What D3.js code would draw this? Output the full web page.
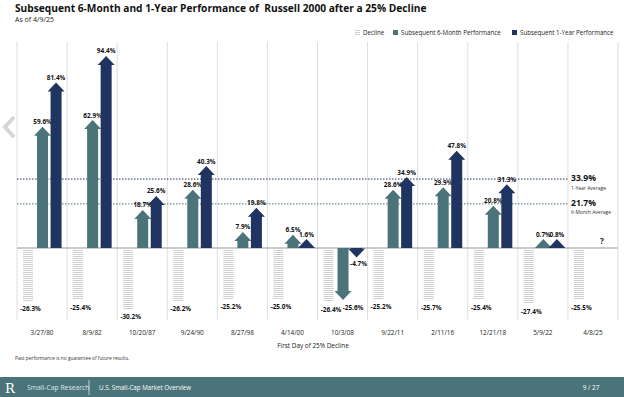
<!DOCTYPE html>
<html>
<head>
<meta charset="utf-8">
<script src="https://cdn.jsdelivr.net/npm/d3@7"></script>
<style>
  body { margin: 0; background: #fff; }
  svg { display: block; font-family: "Open Sans", "Lato", sans-serif; }
</style>
</head>
<body>
<div id="chart"></div>
<script>
"use strict";

// values
var dates = ["3/27/80", "8/9/82", "10/20/87", "9/24/90", "8/27/98", "4/14/00", "10/3/08", "9/22/11", "2/11/16", "12/21/18", "5/9/22", "4/8/25"];
var decline = [-26.3, -25.4, -30.2, -26.2, -25.2, -25.0, -26.4, -25.2, -25.7, -25.4, -27.4, -25.5];
var sixMonth = [59.6, 62.9, 18.7, 28.6, 7.9, 6.5, -25.6, 28.6, 29.9, 20.8, 0.7, null];
var oneYear = [81.4, 94.4, 25.6, 40.3, 19.8, 1.6, -4.7, 34.9, 47.8, 31.3, 0.8, null];
var averages = [
  { value: 33.9, name: "1-Year Average", color: "#1f3461" },
  { value: 21.7, name: "6-Month Average", color: "#4a7479" }
];

var W = 624, H = 397;
var teal = "#4a7479", navy = "#1f3461";

var svg = d3.select("#chart").append("svg")
  .attr("width", W)
  .attr("height", H);

var defs = svg.append("defs");
var pat = defs.append("pattern")
  .attr("id", "hatch")
  .attr("patternUnits", "userSpaceOnUse")
  .attr("width", 4).attr("height", 2);
pat.append("rect").attr("width", 4).attr("height", 2).attr("fill", "#fff");
pat.append("rect").attr("width", 4).attr("height", 1).attr("fill", "#cfcfcf");

var x = d3.scaleBand().domain(dates).range([17, 618]).paddingInner(0).paddingOuter(0);
var y = d3.scaleLinear().domain([0, 100]).range([248, 44.6]);
var bw = x.bandwidth();

// title
svg.append("text").attr("x", 15).attr("y", 12)
  .style("font-size", "10.2px").style("font-weight", 700).style("white-space", "pre").attr("fill", "#111")
  .text("Subsequent 6-Month and 1-Year Performance of  Russell 2000 after a 25% Decline");
svg.append("text").attr("x", 15).attr("y", 22)
  .style("font-size", "7px").attr("fill", "#222")
  .text("As of 4/9/25");

// legend
var lg = svg.append("g").style("font-size", "6.2px").attr("fill", "#222");
lg.append("rect").attr("x", 355).attr("y", 30).attr("width", 5).attr("height", 5).attr("fill", "url(#hatch)");
lg.append("text").attr("x", 363).attr("y", 35).text("Decline");
lg.append("rect").attr("x", 393).attr("y", 30).attr("width", 5).attr("height", 5).attr("fill", teal);
lg.append("text").attr("x", 401).attr("y", 35).text("Subsequent 6-Month Performance");
lg.append("rect").attr("x", 512).attr("y", 30).attr("width", 5).attr("height", 5).attr("fill", navy);
lg.append("text").attr("x", 520).attr("y", 35).text("Subsequent 1-Year Performance");

// vertical grid
var grid = dates.map(function(d) { return x(d); }).concat([x.range()[1]]);
svg.append("g").selectAll("line").data(grid).join("line")
  .attr("x1", function(d) { return d; }).attr("x2", function(d) { return d; })
  .attr("y1", 42).attr("y2", 320)
  .attr("stroke", "#dedede").attr("stroke-width", 1);

// decline bars
var decl = svg.append("g");
decl.selectAll("rect").data(dates).join("rect")
  .attr("x", function(d) { return x(d) + bw * 0.12; })
  .attr("y", y(0) + 2)
  .attr("width", bw * 0.2)
  .attr("height", function(d, i) { return y(decline[i]) - y(0) - 2; })
  .attr("fill", "url(#hatch)");
decl.selectAll("text").data(dates).join("text")
  .attr("x", function(d) { return x(d) + bw * 0.27; })
  .attr("y", function(d, i) { return y(decline[i]) + 10; })
  .attr("text-anchor", "middle")
  .style("font-size", "6.4px").style("font-weight", 700).attr("fill", "#111")
  .text(function(d, i) { return decline[i].toFixed(1) + "%"; });

// zero line
svg.append("line").attr("x1", 17).attr("x2", 618).attr("y1", y(0)).attr("y2", y(0))
  .attr("stroke", "#b8b8b8").attr("stroke-width", 1.5);

// average lines
var avg = svg.append("g");
averages.forEach(function(a) {
  avg.append("line").attr("x1", 17).attr("x2", 569)
    .attr("y1", y(a.value)).attr("y2", y(a.value))
    .attr("stroke", a.color).attr("stroke-width", 1).attr("stroke-dasharray", "1.5,1.5");
  avg.append("text").attr("x", 571).attr("y", y(a.value) + 2)
    .style("font-size", "8.6px").style("font-weight", 700).attr("fill", "#111")
    .text(a.value.toFixed(1) + "%");
  avg.append("text").attr("x", 571).attr("y", y(a.value) + 10.5)
    .style("font-size", "5px").attr("fill", "#333")
    .text(a.name);
});

// arrows
var shaftW = 11, headW = 17, headH = 9;
function arrowPath(cx, v) {
  var z = y(0), tip;
  if (v >= 0) {
    tip = Math.min(y(v), z - headH);
    var base = tip + headH;
    return "M" + (cx - shaftW / 2) + "," + z +
      "L" + (cx - shaftW / 2) + "," + base +
      "L" + (cx - headW / 2) + "," + base +
      "L" + cx + "," + tip +
      "L" + (cx + headW / 2) + "," + base +
      "L" + (cx + shaftW / 2) + "," + base +
      "L" + (cx + shaftW / 2) + "," + z + "Z";
  }
  tip = Math.max(y(v), z + headH);
  var b = tip - headH;
  return "M" + (cx - shaftW / 2) + "," + z +
    "L" + (cx - shaftW / 2) + "," + b +
    "L" + (cx - headW / 2) + "," + b +
    "L" + cx + "," + tip +
    "L" + (cx + headW / 2) + "," + b +
    "L" + (cx + shaftW / 2) + "," + b +
    "L" + (cx + shaftW / 2) + "," + z + "Z";
}

var series = [
  { vals: sixMonth, color: teal, off: 0.51 },
  { vals: oneYear, color: navy, off: 0.78 }
];
series.forEach(function(s) {
  var pts = dates.map(function(d, i) { return { d: d, v: s.vals[i] }; })
    .filter(function(p) { return p.v !== null; });
  var g = svg.append("g");
  g.selectAll("path").data(pts).join("path")
    .attr("d", function(p) { return arrowPath(x(p.d) + bw * s.off, p.v); })
    .attr("fill", s.color);
  g.selectAll("text").data(pts).join("text")
    .attr("x", function(p) {
      var cx = x(p.d) + bw * s.off;
      // deep negative labels sit beside the arrow tip, next to the decline label
      return p.v < -15 ? cx + 10 : cx + (p.v < 0 ? 2 : 0);
    })
    .attr("y", function(p) {
      if (p.v >= 0) return Math.min(y(p.v), y(0) - headH) - 2.5;
      var tip = Math.max(y(p.v), y(0) + headH);
      return p.v < -15 ? tip + 10 : tip + 8;
    })
    .attr("text-anchor", "middle")
    .style("font-size", "6.4px").style("font-weight", 700).attr("fill", "#111")
    .text(function(p) { return p.v.toFixed(1) + "%"; });
});

// unknown outcome for the latest decline
svg.append("text").attr("x", x("4/8/25") + bw * 0.68).attr("y", 244)
  .attr("text-anchor", "middle")
  .style("font-size", "8px").style("font-weight", 700).attr("fill", "#111")
  .text("?");

// x labels
svg.append("g").selectAll("text").data(dates).join("text")
  .attr("x", function(d) { return x(d) + bw / 2; })
  .attr("y", 335)
  .attr("text-anchor", "middle")
  .style("font-size", "6.4px").attr("fill", "#222")
  .text(function(d) { return d; });
svg.append("text").attr("x", 313).attr("y", 348).attr("text-anchor", "middle")
  .style("font-size", "6.4px").attr("fill", "#222")
  .text("First Day of 25% Decline");
svg.append("text").attr("x", 15).attr("y", 360)
  .style("font-size", "4.8px").attr("fill", "#333")
  .text("Past performance is no guarantee of future results.");

// carousel chevron
svg.append("path").attr("d", "M14,117 L5,127 L14,137")
  .attr("fill", "none").attr("stroke", "#d6d6d6").attr("stroke-width", 4);

// footer band
var ft = svg.append("g");
ft.append("rect").attr("x", 0).attr("y", 377).attr("width", W).attr("height", 20).attr("fill", "#4a7479");
ft.append("text").attr("x", 5).attr("y", 393)
  .style("font-family", "'DejaVu Serif', 'Liberation Serif', serif").style("font-size", "13px")
  .attr("fill", "#fff").text("R");
ft.append("text").attr("x", 27).attr("y", 390)
  .style("font-size", "6.8px").attr("fill", "#dfe8e9").text("Small-Cap Research");
ft.append("line").attr("x1", 89).attr("x2", 89).attr("y1", 380).attr("y2", 395)
  .attr("stroke", "#dfe8e9").attr("stroke-width", 0.8);
ft.append("text").attr("x", 99).attr("y", 390)
  .style("font-size", "6.2px").attr("fill", "#fff").text("U.S. Small-Cap Market Overview");
ft.append("text").attr("x", 591).attr("y", 390).attr("text-anchor", "middle")
  .style("font-size", "6.4px").attr("fill", "#fff").text("9 / 27");
</script>
</body>
</html>
